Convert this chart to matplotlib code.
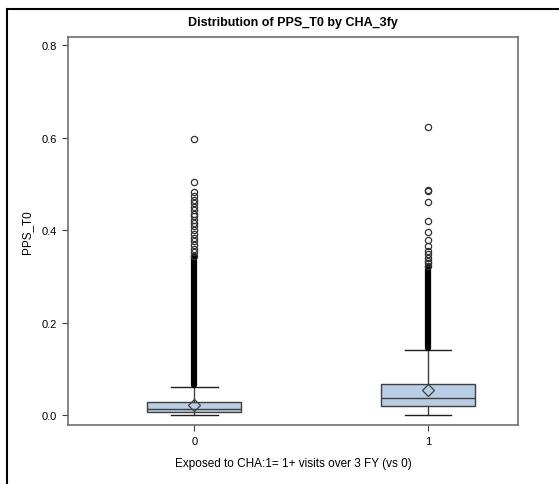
import matplotlib
matplotlib.use("Agg")
import matplotlib.pyplot as plt
from matplotlib.lines import Line2D

plt.rcParams['font.family'] = ['Liberation Sans', 'DejaVu Sans']

# data
groups = [0, 1]
group_labels = ["0", "1"]
q1 = [0.006, 0.020]
medians = [0.013, 0.037]
q3 = [0.029, 0.068]
means = [0.022, 0.054]
whisker_low = [0.0, 0.0]
whisker_high = [0.061, 0.141]
# solid runs of overlapping outliers
dense_outliers = [[0.064, 0.345], [0.144, 0.322]]
outliers_0 = [0.597, 0.505, 0.482, 0.473, 0.465, 0.458, 0.450, 0.443, 0.436,
              0.430, 0.422, 0.415, 0.408, 0.400, 0.392, 0.384, 0.376, 0.368,
              0.360, 0.352, 0.345]
outliers_1 = [0.623, 0.487, 0.484, 0.460, 0.419, 0.395, 0.379, 0.365, 0.356,
              0.348, 0.340, 0.334, 0.328, 0.323]
outliers = [outliers_0, outliers_1]

stats = []
for i in range(len(groups)):
    stats.append({
        'med': medians[i], 'q1': q1[i], 'q3': q3[i], 'mean': means[i],
        'whislo': whisker_low[i], 'whishi': whisker_high[i], 'fliers': [],
    })

fig = plt.figure(figsize=(5.59, 4.85), dpi=100)
ax = fig.add_axes([0.1216, 0.1216, 0.805, 0.801])

ax.bxp(stats, positions=groups, widths=0.4, showmeans=True, patch_artist=True,
       boxprops=dict(facecolor='#B9CDE5', edgecolor='#3F3F3F', linewidth=1.0),
       medianprops=dict(color='#3F3F3F', linewidth=1.0),
       whiskerprops=dict(color='#3F3F3F', linewidth=1.0),
       capprops=dict(color='#202020', linewidth=1.0),
       capwidths=0.2,
       meanprops=dict(marker='D', markerfacecolor='none', markeredgecolor='#3F3F3F',
                      markersize=6, markeredgewidth=0.9))

for x, band in zip(groups, dense_outliers):
    ax.plot([x, x], band, color='black', linewidth=4.5, solid_capstyle='round', zorder=3)
for x, vals in zip(groups, outliers):
    ax.plot([x] * len(vals), vals, linestyle='none', marker='o', markersize=4.5,
            markerfacecolor='none', markeredgecolor='#333333', markeredgewidth=0.9, zorder=3)

ax.set_xlim(-0.54, 1.385)
ax.set_ylim(-0.0216, 0.819)
ax.set_xticks(groups)
ax.set_xticklabels(group_labels)
ax.set_yticks([0.0, 0.2, 0.4, 0.6, 0.8])
ax.set_yticklabels(["0.0", "0.2", "0.4", "0.6", "0.8"])
ax.tick_params(labelsize=8, length=4, width=0.8, color='#404040', pad=4)

for s in ax.spines.values():
    s.set_color('#6E6E6E')
    s.set_linewidth(1.2)

ax.set_title("Distribution of PPS_T0 by CHA_3fy", fontsize=9, fontweight='bold', pad=8)
ax.set_ylabel("PPS_T0", fontsize=8.5, labelpad=6)
ax.set_xlabel("Exposed to CHA:1= 1+ visits over 3 FY (vs 0)", fontsize=8.5, labelpad=8)

# outer frame of the page
fig.add_artist(Line2D([0.0125, 1.0], [0.979, 0.979], color='black', linewidth=1.5))
fig.add_artist(Line2D([0.0125, 0.0125], [0.0, 0.979], color='black', linewidth=1.5))

fig.savefig("out.png", dpi=100)
